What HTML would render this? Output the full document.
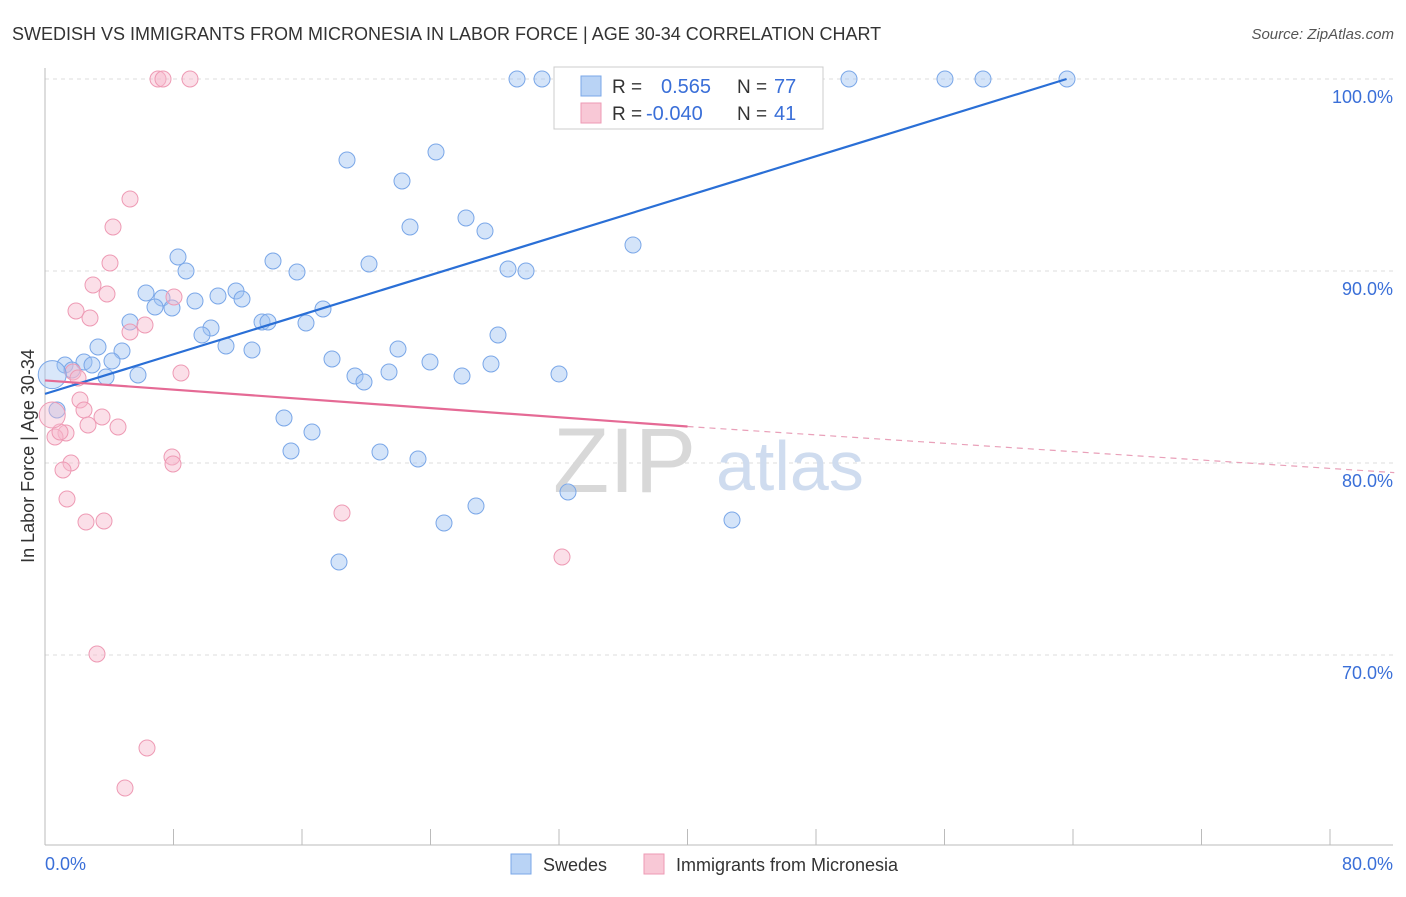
<!DOCTYPE html>
<html><head><meta charset="utf-8">
<style>
body{margin:0;background:#fff;font-family:"Liberation Sans",sans-serif;}
svg text{font-family:"Liberation Sans",sans-serif;}
</style></head>
<body>
<svg width="1406" height="892" xmlns="http://www.w3.org/2000/svg">
<text x="12" y="40" font-size="18" fill="#333">SWEDISH VS IMMIGRANTS FROM MICRONESIA IN LABOR FORCE | AGE 30-34 CORRELATION CHART</text>
<text x="1394" y="39" font-size="15" fill="#555" font-style="italic" text-anchor="end">Source: ZipAtlas.com</text>
<g id="grid"></g>
<g>
<text x="553" y="492" font-size="92" font-family="Liberation Serif" fill="#d8d8d8">ZIP</text>
<text x="716" y="490" font-size="70" fill="#cfdcef">atlas</text>
</g>
<line x1="45" y1="68" x2="45" y2="845" stroke="#bbb"/>
<line x1="45" y1="845" x2="1393" y2="845" stroke="#bbb"/>
<g id="xticks"></g>
<g id="pts"></g>
<g id="trends"></g>
<text x="45" y="870" font-size="18" fill="#3a6fd8">0.0%</text>
<text x="1393" y="870" font-size="18" fill="#3a6fd8" text-anchor="end">80.0%</text>
<text x="34" y="456" font-size="18" fill="#333" text-anchor="middle" transform="rotate(-90 34 456)">In Labor Force | Age 30-34</text>
<g>
<rect x="554" y="67" width="269" height="62" fill="#fff" stroke="#ccc"/>
<rect x="581" y="76" width="20" height="20" fill="#b9d3f5" stroke="#7aa7e8"/>
<rect x="581" y="103" width="20" height="20" fill="#f8c8d6" stroke="#ee9ab4"/>
<text x="612" y="93" font-size="19" fill="#333">R =</text><text x="661" y="93" font-size="20" fill="#3a6fd8">0.565</text>
<text x="737" y="93" font-size="19" fill="#333">N =</text><text x="774" y="93" font-size="20" fill="#3a6fd8">77</text>
<text x="612" y="120" font-size="19" fill="#333">R =</text><text x="646" y="120" font-size="20" fill="#3a6fd8">-0.040</text>
<text x="737" y="120" font-size="19" fill="#333">N =</text><text x="774" y="120" font-size="20" fill="#3a6fd8">41</text>
</g>
<g>
<rect x="511" y="854" width="20" height="20" fill="#b9d3f5" stroke="#7aa7e8"/>
<text x="543" y="871" font-size="18" fill="#333">Swedes</text>
<rect x="644" y="854" width="20" height="20" fill="#f8c8d6" stroke="#ee9ab4"/>
<text x="676" y="871" font-size="18" fill="#333">Immigrants from Micronesia</text>
</g>
</svg>
<script>
const yTicks=[100,90,80,70];
const yTickLabels=["100.0%","90.0%","80.0%","70.0%"];
const xTicks=[0,8,16,24,32,40,48,56,64,72,80];
const bluePx=[[517,79],[542,79],[592,79],[645,79],[678,79],[815,79],[849,79],[945,79],[983,79],[1067,79],[347,160],[436,152],[402,181],[466,218],[410,227],[485,231],[633,245],[178,257],[273,261],[186,271],[297,272],[369,264],[508,269],[526,271],[146,293],[162,298],[236,291],[218,296],[195,301],[242,299],[155,307],[172,308],[323,309],[130,322],[211,328],[262,322],[268,322],[306,323],[202,335],[498,335],[226,346],[252,350],[98,347],[122,351],[398,349],[112,361],[332,359],[430,362],[491,364],[65,365],[84,362],[92,365],[72,370],[138,375],[106,377],[355,376],[364,382],[389,372],[462,376],[559,374],[284,418],[312,432],[291,451],[380,452],[418,459],[568,492],[476,506],[444,523],[732,520],[339,562],[57,410]];
const pinkPx=[[158,79],[163,79],[190,79],[130,199],[113,227],[110,263],[93,285],[107,294],[76,311],[90,318],[145,325],[130,332],[174,297],[181,373],[73,372],[78,378],[80,400],[84,410],[102,417],[118,427],[88,425],[66,433],[55,437],[172,457],[173,464],[71,463],[63,470],[67,499],[342,513],[86,522],[104,521],[562,557],[97,654],[147,748],[125,788],[60,432]];
// data values (percent)
const blueX=bluePx.map(p=>(p[0]-45)/16.0625), blueY=bluePx.map(p=>100-(p[1]-79)/19.2);
const pinkX=pinkPx.map(p=>(p[0]-45)/16.0625), pinkY=pinkPx.map(p=>100-(p[1]-79)/19.2);
const blueTrend=[[0,83.6],[63.6,100]];
const pinkTrend=[[0,84.3],[40,81.9],[84,79.5]];
const X=v=>45+v*16.0625, Y=v=>79+(100-v)*19.2;
const NS="http://www.w3.org/2000/svg";
function mk(t,a,p){const e=document.createElementNS(NS,t);for(const k in a)e.setAttribute(k,a[k]);p.appendChild(e);return e;}
const grid=document.getElementById('grid');
yTicks.forEach((v,i)=>{
 const l=mk('line',{x1:45,x2:1393,y1:Y(v),y2:Y(v),stroke:'#ddd','stroke-dasharray':'4,4'},grid);
 
 
 const t=mk('text',{x:1393,y:Y(v)+24,'font-size':18,fill:'#3a6fd8','text-anchor':'end'},grid);
 t.textContent=yTickLabels[i];
 
 
});
const xt=document.getElementById('xticks');
xTicks.forEach(v=>{
 const l=mk('line',{x1:X(v),x2:X(v),y1:829,y2:845,stroke:'#bbb'},xt);
 
 
});
const pts=document.getElementById('pts');
blueX.forEach((x,i)=>{
 const c=mk('circle',{cx:X(x),cy:Y(blueY[i]),r:8,fill:'rgba(160,195,242,0.45)',stroke:'#7aa7e8','stroke-width':1},pts);
 
 
});
pinkX.forEach((x,i)=>{
 const c=mk('circle',{cx:X(x),cy:Y(pinkY[i]),r:8,fill:'rgba(246,185,205,0.45)',stroke:'#ee9ab4','stroke-width':1},pts);
 
 
});
const big1=mk('circle',{cx:X(0.45),cy:Y(84.6),r:14,fill:'rgba(160,195,242,0.4)',stroke:'#7aa7e8'},pts);


const big2=mk('circle',{cx:X(0.45),cy:Y(82.5),r:13,fill:'rgba(246,185,205,0.4)',stroke:'#ee9ab4'},pts);


const tr=document.getElementById('trends');
const bl=mk('line',{x1:X(blueTrend[0][0]),y1:Y(blueTrend[0][1]),x2:X(blueTrend[1][0]),y2:Y(blueTrend[1][1]),stroke:'#2a6fd6','stroke-width':2.2},tr);


const pl=mk('line',{x1:X(pinkTrend[0][0]),y1:Y(pinkTrend[0][1]),x2:X(pinkTrend[1][0]),y2:Y(pinkTrend[1][1]),stroke:'#e56a95','stroke-width':2.2},tr);


const pd=mk('line',{x1:X(pinkTrend[1][0]),y1:Y(pinkTrend[1][1]),x2:X(pinkTrend[2][0]),y2:Y(pinkTrend[2][1]),stroke:'#e9a0b9','stroke-width':1.2,'stroke-dasharray':'6,5'},tr);


</script>
</body></html>
